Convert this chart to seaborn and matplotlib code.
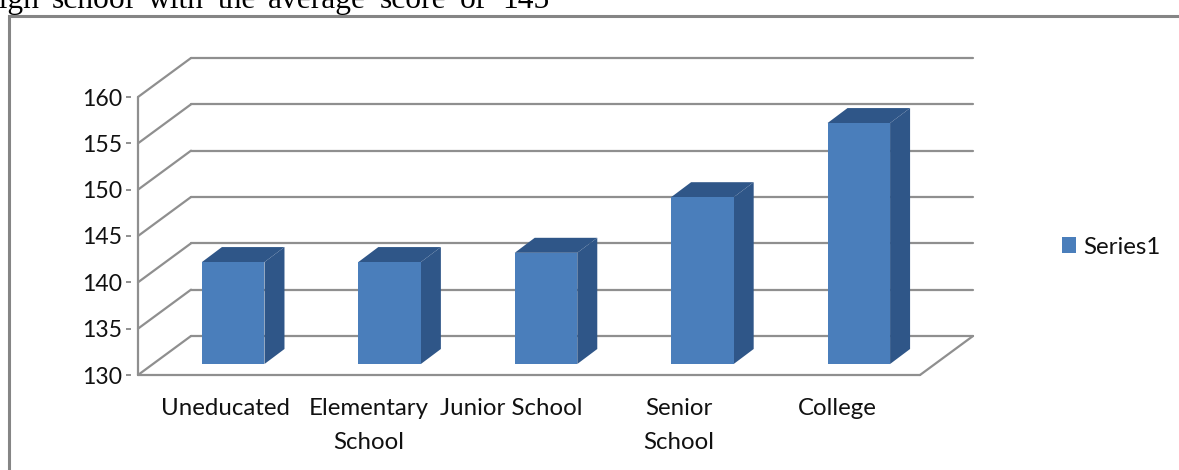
import matplotlib
matplotlib.use("Agg")
import matplotlib.pyplot as plt
import seaborn as sns
import pandas as pd
from matplotlib.patches import Polygon
from matplotlib.transforms import Affine2D, IdentityTransform
from matplotlib.lines import Line2D

categories = ["Uneducated", "Elementary", "Junior School", "Senior", "College"]
category_labels = ["Uneducated", "Elementary\nSchool", "Junior School", "Senior\nSchool", "College"]
series1 = [141, 141, 142, 148, 156]
y_ticks = [130, 135, 140, 145, 150, 155, 160]
series_name = "Series1"
caption_words = ["High", "school", "with", "the", "average", "score", "of", "145"]

W, H = 1179, 470
sns.set_theme(style="white")
plt.rcParams["font.family"] = ["Lato", "DejaVu Sans"]

GRID = "#8f8f8f"
FRONT = "#4a7ebb"
DARK = "#2f5688"
FONT = 17.3

fig = plt.figure(figsize=(W / 100, H / 100), dpi=100, facecolor="white")
ax = fig.add_axes([138 / W, (H - 375) / H, 782 / W, 278 / H])
df = pd.DataFrame({"level": categories, "score": series1})
sns.barplot(data=df, x="level", y="score", color=FRONT, saturation=1, width=0.4,
            label=series_name, ax=ax, zorder=5)
ax.set_xlim(-0.5, 4.5)
ax.set_ylim(min(y_ticks), max(y_ticks))
ax.set_xlabel("")
ax.set_ylabel("")
ax.patch.set_alpha(0)
fig.canvas.draw()

WALL = (53, 39)        # depth of the floor in pixels
BAR_FRONT = (17, 11)   # bar front face within the floor
BAR_DEPTH = (20, 15)   # bar depth


def shifted(offset):
    return ax.transData + Affine2D().translate(*offset)


def px(x, y, offset=(0, 0)):
    return shifted(offset).transform((x, y))


line_kw = dict(color=GRID, lw=1.6, solid_capstyle="round", zorder=1, clip_on=False)
x0, x1 = ax.get_xlim()
for v in y_ticks:
    # back wall
    ax.add_line(Line2D([x0, x1], [v, v], transform=shifted(WALL), **line_kw))
    # side wall
    a, b = px(x0, v), px(x0, v, WALL)
    ax.add_line(Line2D([a[0], b[0]], [a[1], b[1]], transform=IdentityTransform(), **line_kw))
ybase = min(y_ticks)
a, b = px(x1, ybase), px(x1, ybase, WALL)
ax.add_line(Line2D([a[0], b[0]], [a[1], b[1]], transform=IdentityTransform(), **line_kw))
ax.add_line(Line2D([x0, x1], [ybase, ybase], **line_kw))
ax.add_line(Line2D([x0, x0], [ybase, max(y_ticks)], **line_kw))

# bars: front faces from seaborn, side and top faces derived from them
back = (BAR_FRONT[0] + BAR_DEPTH[0], BAR_FRONT[1] + BAR_DEPTH[1])
bars = list(ax.patches)
for bar, value in zip(bars, series1):
    left = bar.get_x()
    right = left + bar.get_width()
    bar.set_y(ybase)
    bar.set_height(value - ybase)
    bar.set_transform(shifted(BAR_FRONT))
    bar.set_clip_on(False)
    bar.set_linewidth(0)
    bar.set_edgecolor("none")
    side = [px(right, ybase, BAR_FRONT), px(right, ybase, back),
            px(right, value, back), px(right, value, BAR_FRONT)]
    top = [px(left, value, BAR_FRONT), px(right, value, BAR_FRONT),
           px(right, value, back), px(left, value, back)]
    for pts in (side, top):
        ax.add_patch(Polygon(pts, closed=True, facecolor=DARK, edgecolor="none",
                             transform=IdentityTransform(), zorder=4, clip_on=False))

for s in ("top", "right", "bottom"):
    ax.spines[s].set_visible(False)
ax.spines["left"].set_position(("outward", 5))
ax.spines["left"].set_visible(False)
ax.set_yticks(y_ticks)
ax.tick_params(axis="y", length=3.6, width=1.4, color=GRID, labelsize=16.6, pad=2.6,
               labelcolor="#111111", left=True)
ax.set_xticks([0.058, 1 - 0.024, 2 - 0.115, 3 - 0.042, 4 - 0.026], category_labels)
ax.tick_params(axis="x", length=0, labelsize=FONT, pad=16.5, labelcolor="#111111")
for t in ax.get_xticklabels():
    t.set_linespacing(1.75)

ax.legend(handles=bars[:1], labels=[series_name], loc="center left",
          bbox_to_anchor=(1040 / W, (H - 247) / H),
          bbox_transform=fig.transFigure, frameon=False, fontsize=FONT,
          handlelength=0.6, handleheight=0.6, handletextpad=0.28,
          labelcolor="#111111")

# surrounding frame of the page
fig.add_artist(Line2D([8.5 / W, 8.5 / W, 1], [0, (H - 15.5) / H, (H - 15.5) / H],
                      color="#858585", lw=2.2, solid_joinstyle="miter"))

# clipped caption line above the chart
word_x = [-24, 52, 148, 218, 268, 380, 460, 502]
for word, x in zip(caption_words, word_x):
    fig.text(x / W, (H - 8) / H, word, family="Liberation Serif", fontsize=22.7,
             color="black", ha="left", va="baseline")

fig.savefig("out.png", dpi=100, facecolor="white")
